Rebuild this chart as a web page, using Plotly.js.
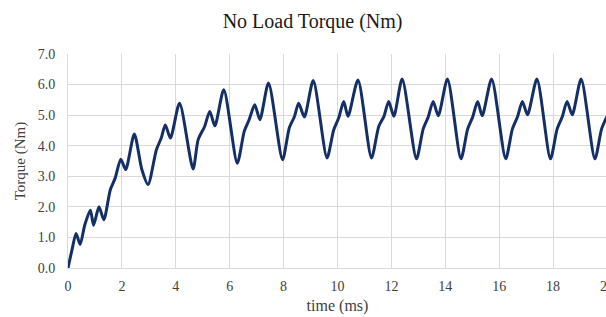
<!DOCTYPE html>
<html>
<head>
<meta charset="utf-8">
<script src="https://cdn.plot.ly/plotly-3.0.1.min.js"></script>
<style>
html,body{margin:0;padding:0;overflow:hidden;background:#fff;}
#chart{width:607px;height:317px;}
</style>
</head>
<body>
<div id="chart"></div>
<script>
// time (ms)
const timeMs = [0, 0.15, 0.30, 0.45, 0.62, 0.83, 0.95, 1.15, 1.33, 1.57, 1.75, 1.96, 2.14, 2.46, 2.74, 2.97,
  3.28, 3.46, 3.61, 3.80, 4.14, 4.64, 4.83, 5.07, 5.26, 5.45, 5.78, 6.28, 6.54, 6.72, 6.93, 7.12, 7.44,
  7.96, 8.21, 8.40, 8.56, 8.77, 9.10, 9.61, 9.86, 10.05, 10.23, 10.39, 10.76, 11.26, 11.53, 11.72, 11.90,
  12.09, 12.40, 12.93, 13.18, 13.37, 13.55, 13.74, 14.08, 14.58, 14.83, 15.02, 15.20, 15.37, 15.72, 16.24,
  16.49, 16.68, 16.86, 17.05, 17.40, 17.90, 18.15, 18.34, 18.52, 18.71, 19.04, 19.55, 19.80, 20.0];
// torque (Nm)
const torqueNm = [0, 0.6, 1.13, 0.77, 1.4, 1.89, 1.40, 2.0, 1.58, 2.56, 2.94, 3.56, 3.22, 4.38, 3.22, 2.73,
  3.87, 4.25, 4.68, 4.25, 5.39, 3.24, 4.2, 4.63, 5.12, 4.65, 5.83, 3.43, 4.47, 4.85, 5.34, 4.85, 6.05,
  3.54, 4.58, 4.95, 5.39, 4.94, 6.13, 3.60, 4.52, 4.92, 5.45, 4.96, 6.15, 3.60, 4.63, 4.95, 5.45,
  4.96, 6.18, 3.57, 4.55, 4.95, 5.45, 4.98, 6.18, 3.57, 4.55, 4.95, 5.45, 4.98, 6.18, 3.57,
  4.55, 4.95, 5.45, 5.01, 6.18, 3.57, 4.55, 4.95, 5.45, 5.01, 6.18, 3.57, 4.55, 4.96];
const xTicks = [0, 2, 4, 6, 8, 10, 12, 14, 16, 18, 20];
const yTicks = [0, 1, 2, 3, 4, 5, 6, 7];

const font = 'Times, "Liberation Serif", "DejaVu Serif", serif';
const trace = {
  x: timeMs, y: torqueNm, type: 'scatter', mode: 'lines',
  line: {color: '#142f66', width: 3, shape: 'spline', smoothing: 0.7},
  hoverinfo: 'none'
};
const layout = {
  width: 607, height: 317,
  margin: {l: 68, r: 0, t: 54, b: 49},
  paper_bgcolor: '#ffffff', plot_bgcolor: '#ffffff',
  showlegend: false,
  font: {family: font, color: '#404040', size: 14},
  title: {text: 'No Load Torque (Nm)', font: {family: font, size: 20, color: '#1a1a1a'},
    xref: 'container', yref: 'container', x: 0.515, y: 0.935, xanchor: 'center', yanchor: 'middle'},
  xaxis: {
    range: [0, 20], tickvals: xTicks, ticktext: xTicks.map(String),
    ticklabeloverflow: 'allow',
    showgrid: true, gridcolor: '#d9d9d9', gridwidth: 1,
    zeroline: false, showline: true, linecolor: '#d9d9d9', linewidth: 1,
    ticks: 'outside', ticklen: 5, tickcolor: 'rgba(0,0,0,0)',
    tickfont: {family: font, size: 14, color: '#404040'},
    title: {text: 'time (ms)', font: {family: font, size: 16, color: '#404040'}, standoff: 7}
  },
  yaxis: {
    range: [0, 7], tickvals: yTicks, ticktext: yTicks.map(v => v.toFixed(1)),
    showgrid: true, gridcolor: '#d9d9d9', gridwidth: 1,
    zeroline: false, showline: true, linecolor: '#d9d9d9', linewidth: 1,
    ticks: 'outside', ticklen: 9, tickcolor: 'rgba(0,0,0,0)',
    tickfont: {family: font, size: 14, color: '#404040'},
    title: {text: 'Torque (Nm)', font: {family: font, size: 15, color: '#404040'}, standoff: 8}
  }
};
Plotly.newPlot('chart', [trace], layout, {displayModeBar: false, staticPlot: true});
</script>
</body>
</html>
